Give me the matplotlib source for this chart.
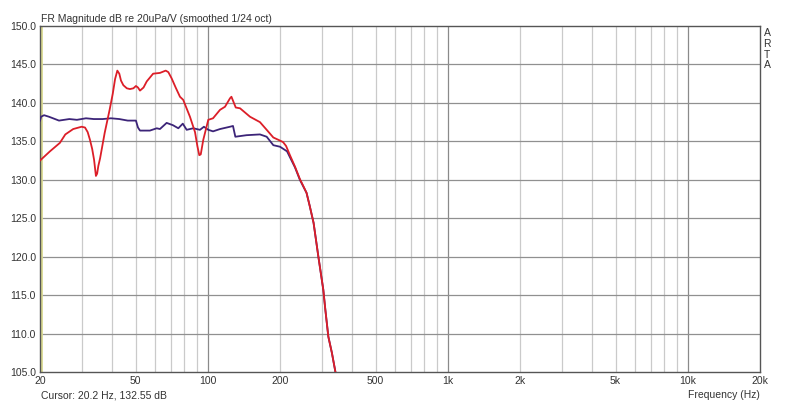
import matplotlib
matplotlib.use("Agg")
import matplotlib.pyplot as plt
import numpy as np

# Curva rossa (Hz, dB)
red_f = [20, 22, 24.2, 25.5, 27.5, 29.8, 30.8, 31.6, 32.3, 33.0, 33.6, 34.0, 34.2, 34.6,
         35.0, 35.6, 37.2, 39.0, 40.2, 41.1, 42.0, 42.8, 43.5, 44.5, 46.0, 47.4, 49.0,
         50.2, 51.2, 52.2, 54.0, 55.7, 59.2, 63.2, 66.8, 68.5, 70.7, 73.5, 76.6, 79.0,
         84.3, 88.5, 90.5, 92.2, 93.5, 95.8, 100.5, 105.2, 112.5, 118, 123.8, 125.5,
         130.8, 136.3, 150, 165, 176, 187.6, 200, 206, 212, 220, 231, 242, 250, 258,
         266, 276, 289, 303, 309, 318, 329, 339, 350]
red_db = [132.5, 133.7, 134.8, 135.9, 136.6, 136.9, 136.8, 136.2, 135.2, 134.0, 132.6,
          131.2, 130.5, 130.8, 131.8, 132.8, 136.1, 139.1, 141.2, 143.1, 144.2, 143.8,
          142.9, 142.3, 141.9, 141.8, 141.9, 142.2, 142.0, 141.6, 142.0, 142.8, 143.8,
          143.9, 144.2, 144.0, 143.2, 142.0, 140.8, 140.4, 138.2, 136.2, 134.4, 133.2,
          133.3, 135.2, 137.8, 138.0, 139.1, 139.5, 140.6, 140.8, 139.4, 139.3, 138.2,
          137.5, 136.5, 135.5, 135.1, 134.9, 134.4, 133.2, 131.7, 130.1, 129.2, 128.3,
          126.6, 124.4, 120.0, 115.7, 113.1, 109.6, 107.5, 105.3, 103.0]

# Curva blu
blue_f = [20, 20.2, 20.8, 21.8, 23.1, 24.0, 26.5, 28.5, 31.1, 33.5, 36.5, 39.5, 42.8,
          46.4, 50.2, 51.2, 52.2, 57.4, 61.3, 63.2, 67.4, 71.6, 75.4, 78.7, 81.7, 87,
          92.8, 96.4, 100.5, 105.2, 112.5, 123.8, 127.4, 130.3, 145, 165, 176, 187.6,
          200, 214, 231, 242, 258, 266, 276, 289, 303, 309, 318, 329, 339, 350]
blue_db = [137.7, 138.2, 138.4, 138.2, 137.9, 137.7, 137.9, 137.8, 138.0, 137.9, 137.9,
           138.0, 137.9, 137.7, 137.7, 136.8, 136.4, 136.4, 136.7, 136.6, 137.4, 137.1,
           136.7, 137.3, 136.5, 136.7, 136.5, 136.9, 136.5, 136.3, 136.6, 136.9, 137.0,
           135.6, 135.8, 135.9, 135.6, 134.5, 134.3, 133.7, 131.6, 130.0, 128.3, 126.6,
           124.4, 120.0, 115.7, 113.1, 109.6, 107.5, 105.3, 103.0]

x_ticks = [20, 50, 100, 200, 500, 1000, 2000, 5000, 10000, 20000]
x_labels = ["20", "50", "100", "200", "500", "1k", "2k", "5k", "10k", "20k"]
y_ticks = [105, 110, 115, 120, 125, 130, 135, 140, 145, 150]

plt.rcParams['font.family'] = ['Liberation Sans', 'DejaVu Sans']

fig = plt.figure(figsize=(8, 4.04), dpi=100)
ax = fig.add_axes([0.05, 0.0792, 0.90, 0.8564])
ax.set_xscale('log')
ax.set_xlim(20, 20000)
ax.set_ylim(105, 150)

# griglia
minor = [m * d for d in (10, 100, 1000, 10000) for m in range(2, 10) if 20 < m * d < 20000]
for f in minor:
    ax.axvline(f, color='#cacaca', lw=0.9, zorder=1)
for f in (100, 1000, 10000):
    ax.axvline(f, color='#8a8a8a', lw=0.9, zorder=1)
for y in y_ticks[1:-1]:
    ax.axhline(y, color='#909090', lw=0.9, zorder=1)

ax.axvline(20.2, color='#d8d890', lw=2, zorder=2)

ax.plot(blue_f, blue_db, color='#3c2478', lw=1.3, zorder=3)
ax.plot(red_f, red_db, color='#dc1e28', lw=1.3, zorder=4)

ax.set_xticks(x_ticks)
ax.set_xticklabels(x_labels)
ax.set_xticks([], minor=True)
ax.set_yticks(y_ticks)
ax.set_yticklabels([f"{v:.1f}" for v in y_ticks])
ax.tick_params(axis='both', length=0, labelsize=7.5, colors='#333333', pad=3)

for s in ax.spines.values():
    s.set_color('#555555')
    s.set_linewidth(1)

fig.text(41 / 800, 1 - 19 / 404, "FR Magnitude dB re 20uPa/V (smoothed 1/24 oct)",
         fontsize=7.5, color='#333333', ha='left', va='center')
fig.text(41 / 800, 1 - 395 / 404, "Cursor: 20.2 Hz, 132.55 dB",
         fontsize=7.5, color='#333333', ha='left', va='center')
fig.text(760 / 800, 1 - 395 / 404, "Frequency (Hz)",
         fontsize=7.5, color='#333333', ha='right', va='center')
fig.text(767 / 800, 1 - 28 / 404, "A\nR\nT\nA", fontsize=7.5, color='#333333',
         ha='center', va='top', linespacing=1.1)

fig.savefig("out.png", dpi=100)
